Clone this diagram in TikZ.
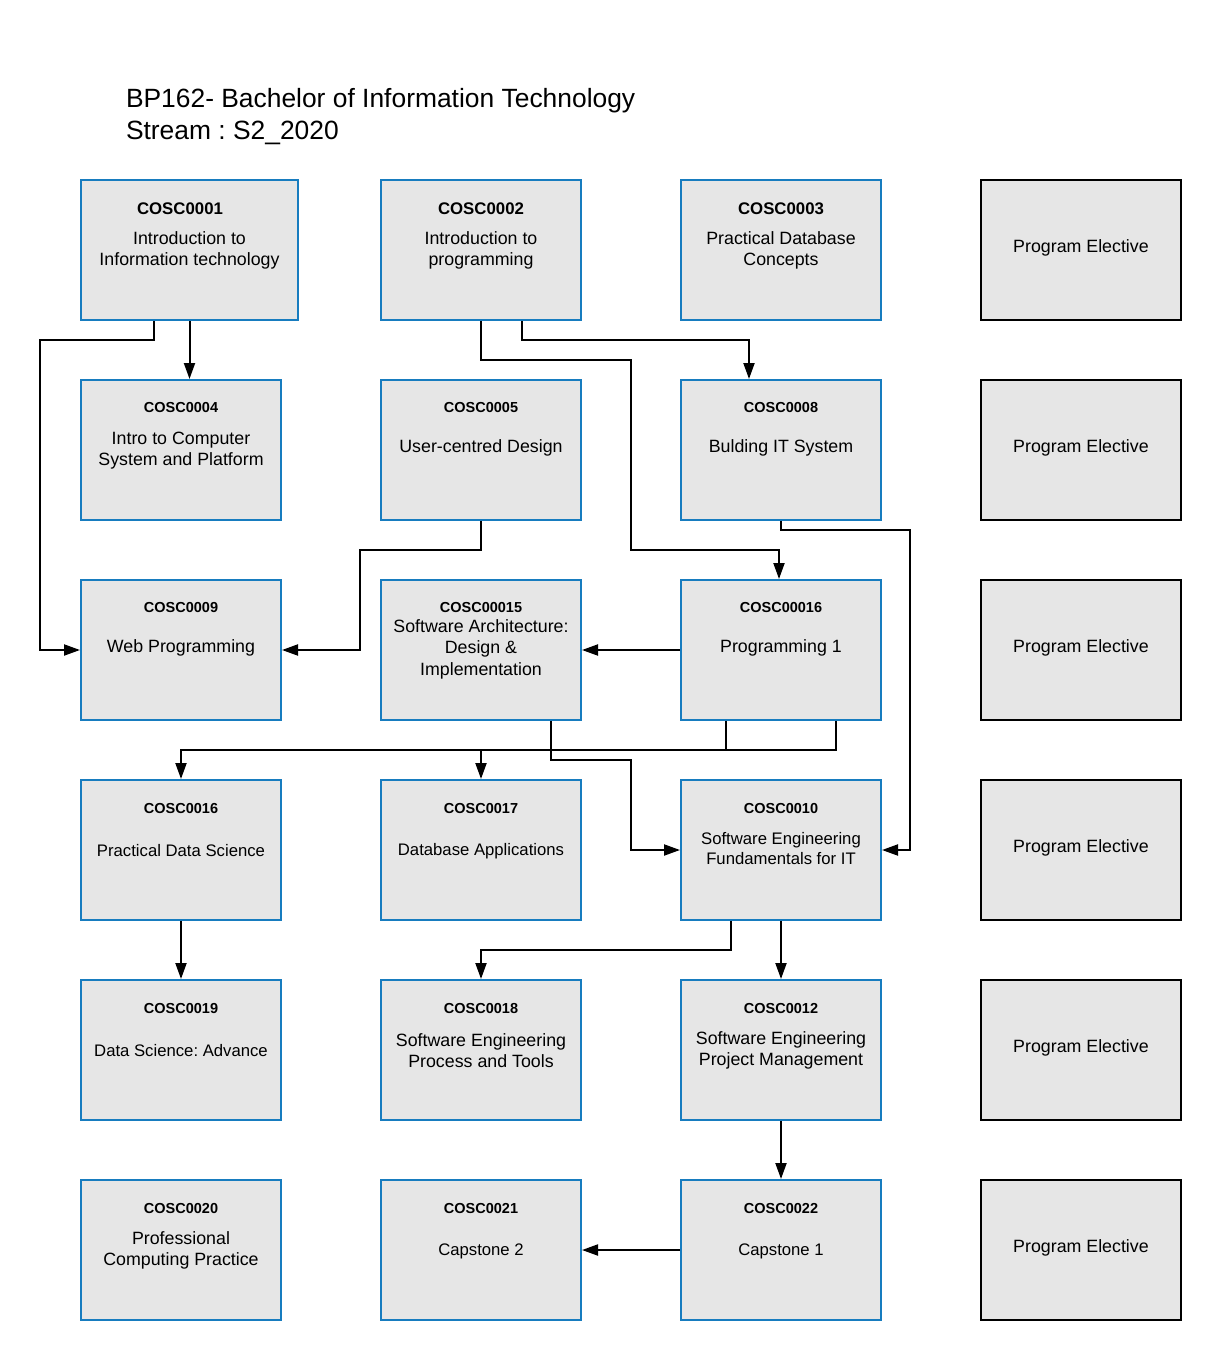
\documentclass[tikz,border=0pt]{standalone}
\usepackage{fontspec}
\setmainfont{Liberation Sans}
\frenchspacing
\usetikzlibrary{arrows.meta, positioning, calc}
\definecolor{boxblue}{RGB}{23,124,191}
\definecolor{boxgray}{RGB}{230,230,230}

\begin{document}
\begin{tikzpicture}[x=1pt, y=-1pt, >={Triangle[length=16pt,width=11pt]}, line width=2pt,
    % boxes of the study plan
    course/.style={draw=boxblue, fill=boxgray, minimum width=200pt, minimum height=140pt, inner sep=0pt},
    elective/.style={course, draw=black},
    % texts in the boxes
    code/.style={font=\fontsize{14.5}{17}\selectfont\bfseries, inner sep=0pt},
    bigcode/.style={font=\fontsize{16.8}{20}\selectfont\bfseries, inner sep=0pt},
    desc/.style={font=\fontsize{17.8}{21.5}\selectfont, align=center, inner sep=0pt},
    descsm/.style={desc, font=\fontsize{16.7}{20}\selectfont},
    title/.style={font=\fontsize{26.4}{32}\selectfont, inner sep=0pt},
    arr/.style={->, line width=2pt}]

    \useasboundingbox (0,0) rectangle (1221,1360);

    % Title
    \node[title, anchor=base west] (title)  at (125,107.5) {BP162- Bachelor of Information Technology};
    \node[title, anchor=base west] (stream) at (125,139.5) {Stream : S2\_2020};

    % Row 1
    \node[course, minimum width=217pt] (c0001) at (189.5,250) {};
    \node[course]   (c0002) at (481,250) {};
    \node[course]   (c0003) at (781,250) {};
    \node[elective] (pe1)   at (1081,250) {};
    \node[bigcode] (k0001) at ([xshift=-9.5pt, yshift=-30pt]c0001.north) {COSC0001};
    \node[bigcode] (k0002) at ([yshift=-30pt]c0002.north) {COSC0002};
    \node[bigcode] (k0003) at ([yshift=-30pt]c0003.north) {COSC0003};
    \node[desc] (d0001) at ([yshift=-71.5pt]c0001.north) {Introduction to\\Information technology};
    \node[desc] (d0002) at ([yshift=-71.5pt]c0002.north) {Introduction to\\programming};
    \node[desc] (d0003) at ([yshift=-71.5pt]c0003.north) {Practical Database\\Concepts};
    \node[desc] (dpe1)  at ([yshift=-69pt]pe1.north) {Program Elective};

    % Row 2
    \node[course]   (c0004) at (181,450) {};
    \node[course]   (c0005) at (481,450) {};
    \node[course]   (c0008) at (781,450) {};
    \node[elective] (pe2)   at (1081,450) {};
    \node[code] (k0004) at ([yshift=-29pt]c0004.north) {COSC0004};
    \node[code] (k0005) at ([yshift=-29pt]c0005.north) {COSC0005};
    \node[code] (k0008) at ([yshift=-29pt]c0008.north) {COSC0008};
    \node[desc] (d0004) at ([yshift=-71.5pt]c0004.north) {Intro to Computer\\System and Platform};
    \node[desc] (d0005) at ([yshift=-69pt]c0005.north) {User-centred Design};
    \node[desc] (d0008) at ([yshift=-69pt]c0008.north) {Bulding IT System};
    \node[desc] (dpe2)  at ([yshift=-69pt]pe2.north) {Program Elective};

    % Row 3
    \node[course]   (c0009)  at (181,650) {};
    \node[course]   (c00015) at (481,650) {};
    \node[course]   (c00016) at (781,650) {};
    \node[elective] (pe3)    at (1081,650) {};
    \node[code] (k0009)  at ([yshift=-29pt]c0009.north) {COSC0009};
    \node[code] (k00015) at ([yshift=-29pt]c00015.north) {COSC00015};
    \node[code] (k00016) at ([yshift=-29pt]c00016.north) {COSC00016};
    \node[desc] (d0009)  at ([yshift=-69pt]c0009.north) {Web Programming};
    \node[desc] (d00015) at ([yshift=-70pt]c00015.north) {Software Architecture:\\Design \&\\Implementation};
    \node[desc] (d00016) at ([yshift=-69pt]c00016.north) {Programming 1};
    \node[desc] (dpe3)   at ([yshift=-69pt]pe3.north) {Program Elective};

    % Row 4
    \node[course]   (c0016) at (181,850) {};
    \node[course]   (c0017) at (481,850) {};
    \node[course]   (c0010) at (781,850) {};
    \node[elective] (pe4)   at (1081,850) {};
    \node[code] (k0016) at ([yshift=-29pt]c0016.north) {COSC0016};
    \node[code] (k0017) at ([yshift=-29pt]c0017.north) {COSC0017};
    \node[code] (k0010) at ([yshift=-29pt]c0010.north) {COSC0010};
    \node[descsm] (d0016) at ([yshift=-72pt]c0016.north) {Practical Data Science};
    \node[descsm] (d0017) at ([yshift=-72pt]c0017.north) {Database Applications};
    \node[descsm] (d0010) at ([yshift=-70pt]c0010.north) {Software Engineering\\Fundamentals for IT};
    \node[desc]   (dpe4)  at ([yshift=-69pt]pe4.north) {Program Elective};

    % Row 5
    \node[course]   (c0019) at (181,1050) {};
    \node[course]   (c0018) at (481,1050) {};
    \node[course]   (c0012) at (781,1050) {};
    \node[elective] (pe5)   at (1081,1050) {};
    \node[code] (k0019) at ([yshift=-29pt]c0019.north) {COSC0019};
    \node[code] (k0018) at ([yshift=-29pt]c0018.north) {COSC0018};
    \node[code] (k0012) at ([yshift=-29pt]c0012.north) {COSC0012};
    \node[descsm] (d0019) at ([yshift=-72pt]c0019.north) {Data Science: Advance};
    \node[desc]   (d0018) at ([yshift=-71.5pt]c0018.north) {Software Engineering\\Process and Tools};
    \node[desc]   (d0012) at ([yshift=-71.5pt]c0012.north) {Software Engineering\\Project Management};
    \node[desc]   (dpe5)  at ([yshift=-69pt]pe5.north) {Program Elective};

    % Row 6
    \node[course]   (c0020) at (181,1250) {};
    \node[course]   (c0021) at (481,1250) {};
    \node[course]   (c0022) at (781,1250) {};
    \node[elective] (pe6)   at (1081,1250) {};
    \node[code] (k0020) at ([yshift=-29pt]c0020.north) {COSC0020};
    \node[code] (k0021) at ([yshift=-29pt]c0021.north) {COSC0021};
    \node[code] (k0022) at ([yshift=-29pt]c0022.north) {COSC0022};
    \node[desc]   (d0020) at ([yshift=-71.5pt]c0020.north) {Professional\\Computing Practice};
    \node[descsm] (d0021) at ([yshift=-72pt]c0021.north) {Capstone 2};
    \node[descsm] (d0022) at ([yshift=-72pt]c0022.north) {Capstone 1};
    \node[desc]   (dpe6)  at ([yshift=-69pt]pe6.north) {Program Elective};

    % Prerequisite arrows
    \draw[arr] (c0001.south) -- (c0001.south |- c0004.north);
    \draw[arr] ([xshift=-35.5pt]c0001.south) |- (40,340) |- (c0009.west);
    \draw[arr] ([xshift=41pt]c0002.south) |- (749,340) -- ([xshift=-32pt]c0008.north);
    \draw[arr] (c0002.south) |- (631,360) |- (779,550) -- ([xshift=-2pt]c00016.north);
    \draw[arr] (c0005.south) |- (360,550) |- (c0009.east);
    \draw[arr] (c0008.south) |- (910,530) |- (c0010.east);
    \draw[arr] (c00016.west) -- (c00015.east);
    \draw[arr] ([xshift=-55pt]c00016.south) |- (181,750) -- (c0016.north);
    \draw[arr] ([xshift=55pt]c00016.south) |- (481,750) -- (c0017.north);
    \draw[arr] ([xshift=70pt]c00015.south) |- (631,760) |- (c0010.west);
    \draw[arr] ([xshift=-50pt]c0010.south) |- (481,950) -- (c0018.north);
    \draw[arr] (c0010.south) -- (c0012.north);
    \draw[arr] (c0016.south) -- (c0019.north);
    \draw[arr] (c0012.south) -- (c0022.north);
    \draw[arr] (c0022.west) -- (c0021.east);
\end{tikzpicture}
\end{document}
